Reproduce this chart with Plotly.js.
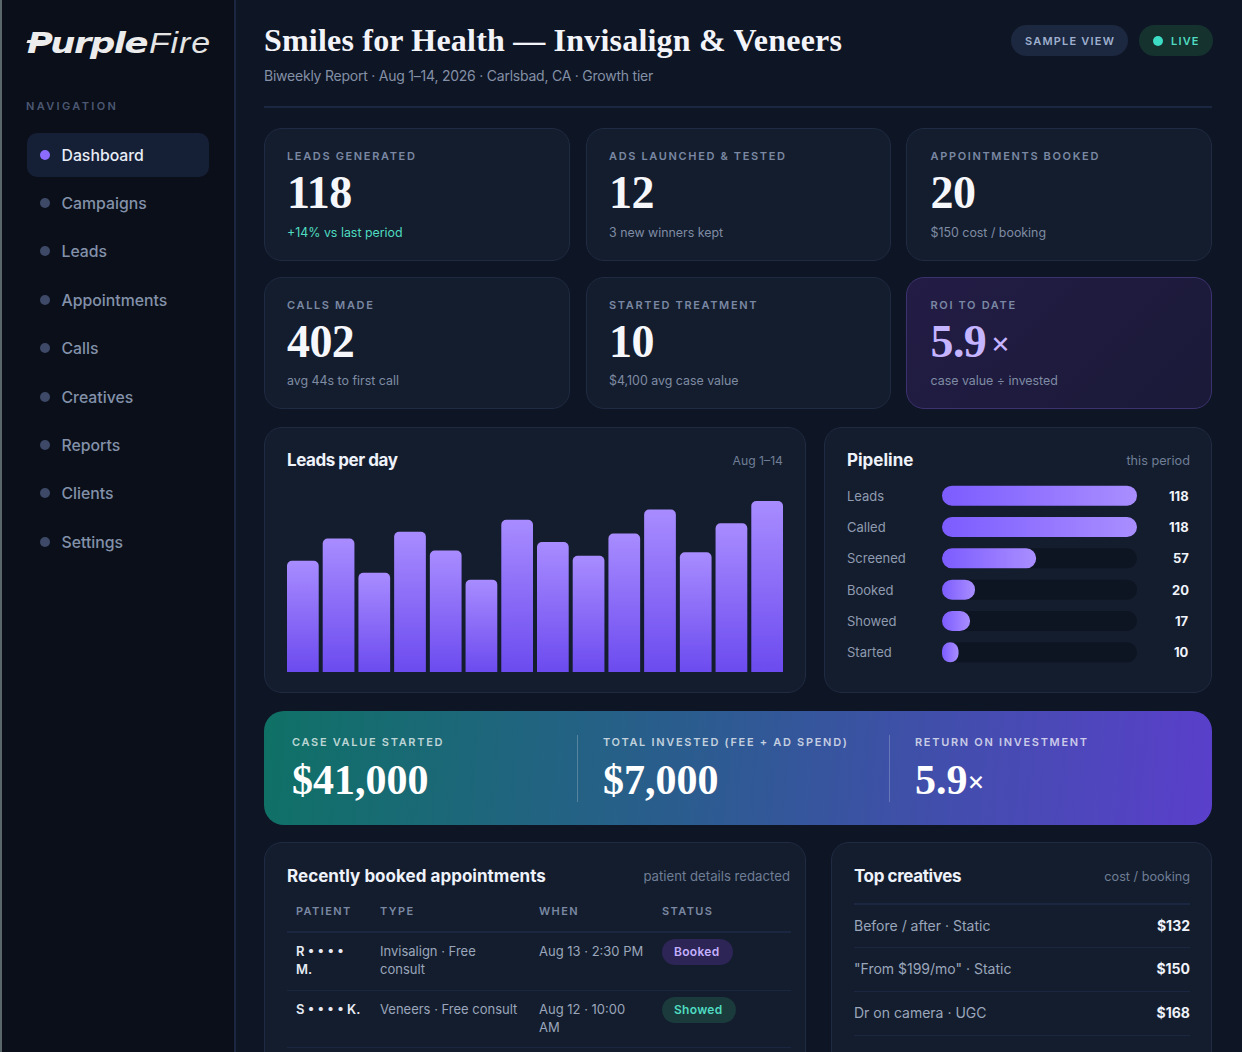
<!DOCTYPE html>
<html><head><meta charset="utf-8">
<script src="https://cdn.plot.ly/plotly-3.0.1.min.js"></script>
<style>
html,body{margin:0;padding:0;background:#0e1524;width:1242px;height:1052px;overflow:hidden}
#page{position:relative;width:1242px;height:1052px;overflow:hidden;font-family:Inter,sans-serif}
.t{position:absolute;white-space:nowrap;line-height:1;transform:translateY(-50%)}
.b{position:absolute;box-sizing:border-box}
.chart{position:absolute}
</style></head><body><div id="page"></div>
<script>
// ---- data ----
const navItems=['Dashboard','Campaigns','Leads','Appointments','Calls','Creatives','Reports','Clients','Settings'];
const kpiLabels=['LEADS GENERATED','ADS LAUNCHED & TESTED','APPOINTMENTS BOOKED','CALLS MADE','STARTED TREATMENT','ROI TO DATE'];
const kpiValues=['118','12','20','402','10','5.9'];
const kpiNotes=['+14% vs last period','3 new winners kept','$150 cost / booking','avg 44s to first call','$4,100 avg case value','case value ÷ invested'];
const days=['Aug 1','Aug 2','Aug 3','Aug 4','Aug 5','Aug 6','Aug 7','Aug 8','Aug 9','Aug 10','Aug 11','Aug 12','Aug 13','Aug 14'];
const leadsPerDay=[65,78,58,82,71,54,89,76,68,81,95,70,87,100];
const stages=['Leads','Called','Screened','Booked','Showed','Started'];
const stageCounts=[118,118,57,20,17,10];
const bannerLabels=['CASE VALUE STARTED','TOTAL INVESTED (FEE + AD SPEND)','RETURN ON INVESTMENT'];
const bannerValues=['$41,000','$7,000','5.9'];
const tableHeaders=['PATIENT','TYPE','WHEN','STATUS'];
const tableRows=[
 [['R • • • •','M.'],['Invisalign · Free','consult'],['Aug 13 · 2:30 PM'],'Booked'],
 [['S • • • • K.'],['Veneers · Free consult'],['Aug 12 · 10:00','AM'],'Showed']
];
const creativeNames=['Before / after · Static','"From $199/mo" · Static','Dr on camera · UGC'];
const creativeCosts=['$132','$150','$168'];

// ---- page furniture ----
const page=document.getElementById('page');
function box(l,t,w,h,css){const d=document.createElement('div');d.className='b';d.style.cssText=`left:${l}px;top:${t}px;width:${w}px;height:${h}px;${css||''}`;page.appendChild(d);return d;}
function txt(x,y,s,css,right){const d=document.createElement('div');d.className='t';d.textContent=s;
 d.style.cssText=(right?`right:${1242-x}px;`:`left:${x}px;`)+`top:${y}px;${css||''}`;page.appendChild(d);return d;}
const label='font-size:11px;font-weight:600;letter-spacing:1.65px;color:#7a88a3;';
const heading='font-size:17px;font-weight:700;color:#eef2fa;';
const aside='font-size:13px;color:#6f7d96;';
const cardCss='background:#141d2d;border:1.5px solid #1f2b42;border-radius:18px;';

// sidebar
box(0,0,236,1052,'background:#0a0f1a;border-right:2px solid #1b2640');
box(0,0,2,1052,'background:#5a686b');
txt(27,43,'Purple','font-family:"DejaVu Sans";font-style:italic;font-weight:700;font-size:29px;color:#ececec;letter-spacing:-1.2px;transform:translateY(-50%) scaleX(1.22);transform-origin:left center;');
txt(149,43,'Fire','font-family:"Liberation Sans";font-style:italic;font-size:30px;color:#e4e4e4;letter-spacing:.8px;transform:translateY(-50%) scaleX(1.13);transform-origin:left center;');
box(27,40,18,3,'background:#ececec;transform:skewX(-20deg)');
txt(26,106,'NAVIGATION','font-size:11px;font-weight:600;letter-spacing:2.35px;color:#4c5872;');
box(27,133,182,44,'background:#151f36;border-radius:10px');
const navY=[155,203,251,300,348,397,445,493,542];
navItems.forEach((n,i)=>{
 box(40,navY[i]-5,10,10,`border-radius:50%;background:${i?'#3d4966':'#8b6cff'}`);
 txt(61.5,navY[i]+1,n,`font-size:15.8px;font-weight:500;color:${i?'#8391a9':'#e8edf7'};`);
});

// header
txt(264,40.4,'Smiles for Health — Invisalign & Veneers','font-family:"Liberation Serif",serif;font-weight:700;font-size:32px;color:#f2f4f9;letter-spacing:.2px;');
txt(264,76,'Biweekly Report · Aug 1–14, 2026 · Carlsbad, CA · Growth tier','font-size:14px;color:#8490a6;letter-spacing:-.23px;');
box(1011,25,117,31,'background:#1c2840;border-radius:16px');
txt(1025,41,'SAMPLE VIEW','font-size:11px;font-weight:600;letter-spacing:1.2px;color:#9fb0cf;');
box(1139,25,74,31,'background:#15322f;border-radius:16px');
box(1153,36,10,10,'background:#3ddcc4;border-radius:50%');
txt(1171,41,'LIVE','font-size:11px;font-weight:600;letter-spacing:1.2px;color:#4fdcc0;');
box(264,106,948,2,'background:#1b2640');

// KPI cards
const cardX=[[264,306,23],[586,305,23],[906,306,24.5]];
const cardY=[[128,133],[277,132]];
kpiLabels.forEach((lab,i)=>{
 const c=cardX[i%3],r=cardY[Math.floor(i/3)],roi=i===5;
 box(c[0],r[0],c[1],r[1],roi?'background:linear-gradient(135deg,#231c45,#1a1a38);border:1.5px solid #3d3270;border-radius:18px;':cardCss);
 const x=c[0]+c[2],y0=r[0];
 txt(x,y0+28,lab,label);
 txt(x,y0+65,kpiValues[i],`font-family:"Liberation Serif",serif;font-weight:700;font-size:46px;letter-spacing:-.6px;color:${roi?'#c5b4ff':'#f6f7fb'};`);
 if(roi) txt(x+60,y0+65,'×','font-size:30px;font-weight:400;color:#c5b4ff;');
 txt(x,y0+(i<3?105:104),kpiNotes[i],`font-size:12.4px;color:${i===0?'#4fdcc0':'#7f8ca4'};`);
});

// chart cards
box(264,427,542,266,cardCss);
txt(287,460,'Leads per day',heading+'letter-spacing:-.45px;');
txt(783,461,'Aug 1–14',aside+'font-size:12.2px;',true);
box(824,427,388,266,cardCss);
txt(847,460,'Pipeline',heading);
txt(1190,461,'this period',aside+'font-size:12.7px;',true);
const bars=document.createElement('div');bars.id='bars';bars.className='chart';bars.style.cssText='left:285px;top:498px;width:500px;height:174px';page.appendChild(bars);
const pipe=document.createElement('div');pipe.id='pipe';pipe.className='chart';pipe.style.cssText='left:847px;top:480px;width:343px;height:188px';page.appendChild(pipe);

// banner
box(264,711,948,114,'background:linear-gradient(95deg,#0f7166 0%,#2b5c8f 45%,#5a3fcb 100%);border-radius:20px');
const bx=[292,603,915];
bannerLabels.forEach((l,i)=>{
 txt(bx[i],741.5,l,'font-size:11px;font-weight:600;letter-spacing:1.69px;color:rgba(255,255,255,.72);');
 txt(bx[i],780,bannerValues[i],'font-family:"Liberation Serif",serif;font-weight:700;font-size:42px;color:#fff;');
});
txt(967,780,'×','font-size:27px;color:#fff;');
box(577,735,1,67,'background:rgba(255,255,255,.22)');
box(889,735,1,67,'background:rgba(255,255,255,.22)');

// appointments table
box(264,842,542,240,cardCss);
txt(287,876,'Recently booked appointments',heading+'letter-spacing:.03px;');
txt(790,877,'patient details redacted',aside+'font-size:13.2px;',true);
const colX=[296,380,539,662];
tableHeaders.forEach((h,i)=>txt(colX[i],910.5,h,'font-size:11px;font-weight:600;letter-spacing:1.4px;color:#7a88a3;'));
box(287,931,504,2,'background:#1b2640');
const rowY=[951,1009],lineY=[990,1047];
const cellCss=['font-size:13px;font-weight:600;color:#e6ebf5;','font-size:13px;color:#9aa6bb;','font-size:13px;color:#9aa6bb;'];
tableRows.forEach((r,k)=>{
 [0,1,2].forEach(c=>r[c].forEach((s,j)=>txt(colX[c],rowY[k]+j*18,s,cellCss[c])));
 const booked=r[3]==='Booked';
 box(662,rowY[k]-12,booked?71:74,26,`background:${booked?'#2c2555':'#1a3a3c'};border-radius:13px`);
 txt(674,rowY[k]+1,r[3],`font-size:12px;font-weight:600;letter-spacing:.3px;color:${booked?'#c4b0ff':'#4fdcc0'};`);
 box(287,lineY[k],504,1,'background:#1b2640');
});

// creatives
box(831,842,381,240,cardCss);
txt(854,876,'Top creatives',heading+'letter-spacing:-.4px;');
txt(1190,877,'cost / booking',aside+'font-size:12.7px;',true);
box(854,903,336,2,'background:#1b2640');
const crY=[926,969,1013],crL=[947,991,1035];
creativeNames.forEach((n,i)=>{
 txt(854,crY[i],n,'font-size:14px;color:#9aa6bb;');
 txt(1190,crY[i],creativeCosts[i],'font-size:14px;font-weight:700;color:#eef2fa;',true);
 box(854,crL[i],336,1,'background:#1b2640');
});

// ---- charts ----
function addGradient(gd,id,vertical,c0,c1){
 const svg=gd.querySelector('svg.main-svg');
 const ns='http://www.w3.org/2000/svg';
 const defs=svg.querySelector('defs')||svg.insertBefore(document.createElementNS(ns,'defs'),svg.firstChild);
 const g=document.createElementNS(ns,'linearGradient');g.setAttribute('id',id);
 g.setAttribute('x1','0');g.setAttribute('y1','0');g.setAttribute('x2',vertical?'0':'1');g.setAttribute('y2',vertical?'1':'0');
 [[0,c0],[1,c1]].forEach(([o,c])=>{const s=document.createElementNS(ns,'stop');s.setAttribute('offset',o);s.setAttribute('stop-color',c);g.appendChild(s);});
 defs.appendChild(g);
}
function roundBars(path,r){ // round both ends of a bar the library already placed
 const b=path.getBBox();if(!b.width||!b.height)return;
 const R=Math.min(r,b.height/2,b.width/2),x=b.x,y=b.y,w=b.width,h=b.height;
 path.setAttribute('d',`M${x+R},${y}H${x+w-R}A${R},${R} 0 0 1 ${x+w},${y+R}V${y+h-R}A${R},${R} 0 0 1 ${x+w-R},${y+h}H${x+R}A${R},${R} 0 0 1 ${x},${y+h-R}V${y+R}A${R},${R} 0 0 1 ${x+R},${y}Z`);
}
const baseLayout={paper_bgcolor:'rgba(0,0,0,0)',plot_bgcolor:'rgba(0,0,0,0)',showlegend:false,margin:{l:0,r:0,t:0,b:0},font:{family:'Inter'}};
const cfg={displayModeBar:false,responsive:false};

Plotly.newPlot('bars',[{type:'bar',x:days,y:leadsPerDay,marker:{color:'#8b6cff',line:{width:0}},hoverinfo:'x+y'}],
 Object.assign({},baseLayout,{width:500,height:174,bargap:0.112,barcornerradius:5,
  xaxis:{visible:false,type:'category',range:[-0.5,13.5]},yaxis:{visible:false,range:[0,101.75]}}),cfg)
.then(gd=>{
 addGradient(gd,'gradV',true,'#a88cff','#6c4bef');
 gd.querySelectorAll('.barlayer .point path').forEach(p=>{p.style.fill='url(#gradV)';});
});

const maxCount=Math.max(...stageCounts);
const anns=[];
stages.forEach((s,i)=>{
 anns.push({xref:'paper',x:0,xshift:-97,xanchor:'left',yref:'y',y:s,text:s,showarrow:false,font:{family:'Inter',size:13,color:'#8f9bb0'}});
 anns.push({xref:'paper',x:1,xshift:54,xanchor:'right',yref:'y',y:s,text:String(stageCounts[i]),showarrow:false,font:{family:'Inter',size:13,color:'#f0f3fa',weight:700}});
});
Plotly.newPlot('pipe',[
 {type:'bar',orientation:'h',y:stages,x:stages.map(()=>maxCount),marker:{color:'#0e1522',line:{width:0}},hoverinfo:'skip'},
 {type:'bar',orientation:'h',y:stages,x:stageCounts,marker:{color:'#8b6cff',line:{width:0}},hoverinfo:'x+y'}
],Object.assign({},baseLayout,{width:343,height:188,barmode:'overlay',bargap:0.36,margin:{l:95,r:53,t:0,b:0},annotations:anns,
  xaxis:{visible:false,range:[0,maxCount]},yaxis:{visible:false,type:'category',autorange:'reversed'}}),cfg)
.then(gd=>{
 addGradient(gd,'gradH',false,'#7c5cff','#a98eff');
 const tr=gd.querySelectorAll('.barlayer .trace');
 tr.forEach((t,k)=>t.querySelectorAll('.point path').forEach(p=>{
  roundBars(p,10);
  if(k===1)p.style.fill='url(#gradH)';
 }));
});
</script></body></html>
